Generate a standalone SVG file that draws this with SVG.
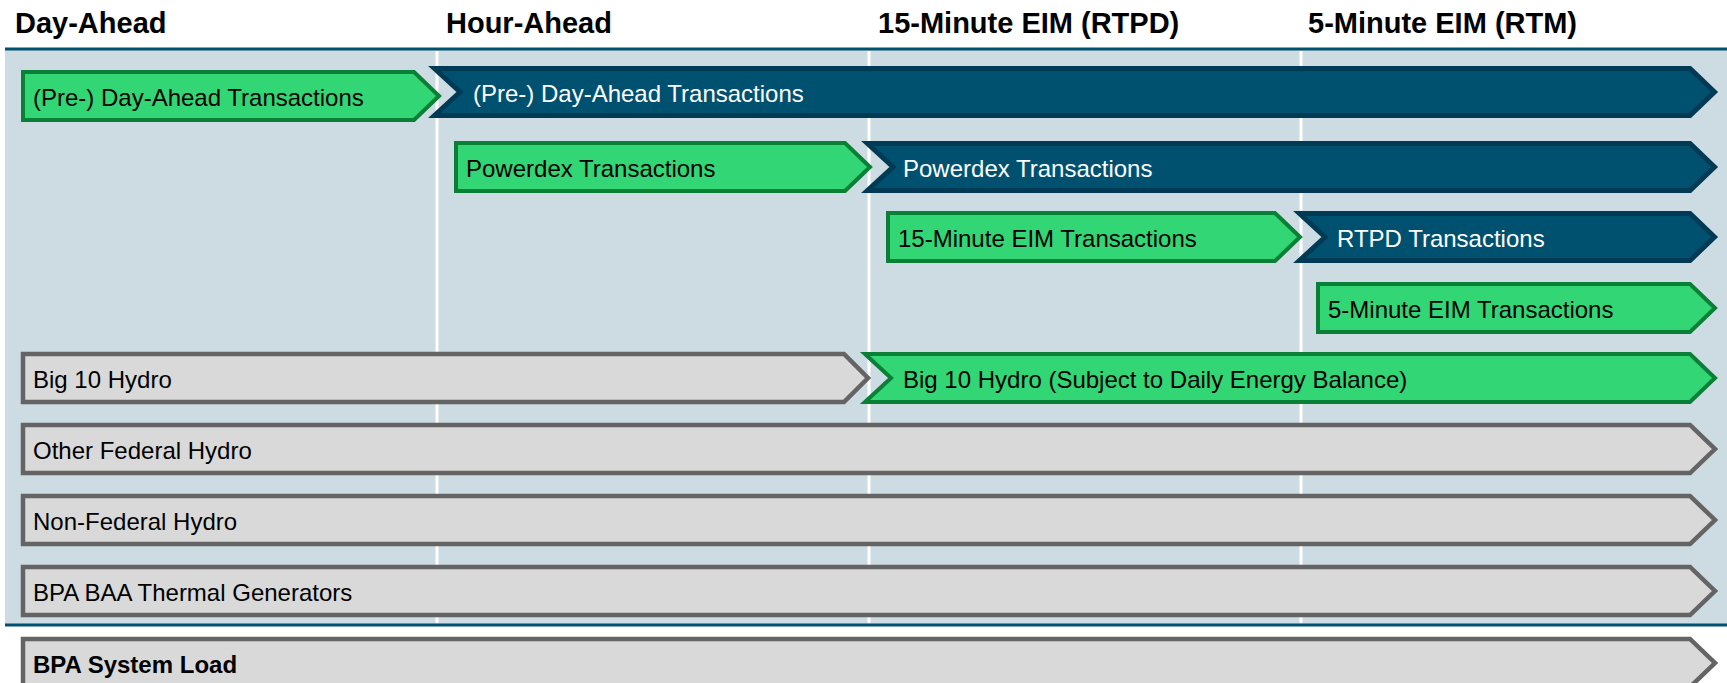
<svg xmlns="http://www.w3.org/2000/svg" width="1727" height="683" viewBox="0 0 1727 683">
<style>
.hdr{font-family:"Liberation Sans",Arial,sans-serif;font-weight:bold;font-size:29px;fill:#000}
.t{font-family:"Liberation Sans",Arial,sans-serif;font-size:24px;fill:#000}
.tw{font-family:"Liberation Sans",Arial,sans-serif;font-size:24px;fill:#fff}
.tb{font-family:"Liberation Sans",Arial,sans-serif;font-size:24px;font-weight:bold;fill:#000}
.green{fill:#33D674;stroke:#0A7F36;stroke-width:4}
.blue{fill:#00516F;stroke:#003A54;stroke-width:5}
.gray{fill:#D9D9D9;stroke:#646464;stroke-width:4.5}
.div{stroke:#fff;stroke-width:3}
</style>
<rect width="1727" height="683" fill="#fff"/>
<rect x="5" y="49" width="1722" height="576" fill="#CDDBE3"/>
<line x1="5" y1="49" x2="1727" y2="49" stroke="#00506F" stroke-width="3"/>
<line x1="5" y1="625" x2="1727" y2="625" stroke="#00506F" stroke-width="3"/>
<g id="dividers">
<line class="div" x1="437" y1="51" x2="437" y2="623"/>
<line class="div" x1="869" y1="51" x2="869" y2="623"/>
<line class="div" x1="1301" y1="51" x2="1301" y2="623"/>
</g>
<g id="headers">
<text class="hdr" x="15" y="33">Day-Ahead</text>
<text class="hdr" x="446" y="33">Hour-Ahead</text>
<text class="hdr" x="878" y="33">15-Minute EIM (RTPD)</text>
<text class="hdr" x="1308" y="33">5-Minute EIM (RTM)</text>
</g>
<g id="da-blue">
<path class="blue" d="M434.5,68.5 H1690 L1714.5,92 L1690,115.5 H434.5 L460,92 Z"/>
<text class="tw" x="473" y="102">(Pre-) Day-Ahead Transactions</text>
</g>
<g id="da-green">
<path class="green" d="M23,72 H414 L439,96 L414,120 H23 Z"/>
<text class="t" x="33" y="106">(Pre-) Day-Ahead Transactions</text>
</g>
<g id="pdx-blue">
<path class="blue" d="M867.5,143.5 H1690 L1714.5,167 L1690,190.5 H867.5 L893,167 Z"/>
<text class="tw" x="903" y="177">Powerdex Transactions</text>
</g>
<g id="pdx-green">
<path class="green" d="M456,143 H845 L870,167 L845,191 H456 Z"/>
<text class="t" x="466" y="177">Powerdex Transactions</text>
</g>
<g id="rtpd-blue">
<path class="blue" d="M1299.5,213.5 H1690 L1714.5,237 L1690,260.5 H1299.5 L1325,237 Z"/>
<text class="tw" x="1337" y="247">RTPD Transactions</text>
</g>
<g id="eim15-green">
<path class="green" d="M888,213 H1275 L1300,237 L1275,261 H888 Z"/>
<text class="t" x="898" y="247">15-Minute EIM Transactions</text>
</g>
<g id="eim5-green">
<path class="green" d="M1318,284 H1690 L1715,308 L1690,332 H1318 Z"/>
<text class="t" x="1328" y="318">5-Minute EIM Transactions</text>
</g>
<g id="big10-green">
<path class="green" d="M865,354 H1690 L1715,378 L1690,402 H865 L891,378 Z"/>
<text class="t" x="903" y="388">Big 10 Hydro (Subject to Daily Energy Balance)</text>
</g>
<g id="big10-gray">
<path class="gray" d="M23,354 H844 L868,378 L844,402 H23 Z"/>
<text class="t" x="33" y="388">Big 10 Hydro</text>
</g>
<g id="other-federal">
<path class="gray" d="M23,425 H1690 L1715,449 L1690,473 H23 Z"/>
<text class="t" x="33" y="459">Other Federal Hydro</text>
</g>
<g id="non-federal">
<path class="gray" d="M23,496 H1690 L1715,520 L1690,544 H23 Z"/>
<text class="t" x="33" y="530">Non-Federal Hydro</text>
</g>
<g id="thermal">
<path class="gray" d="M23,567 H1690 L1715,591 L1690,615 H23 Z"/>
<text class="t" x="33" y="601">BPA BAA Thermal Generators</text>
</g>
<g id="system-load">
<path class="gray" d="M23,639 H1690 L1715,663 L1690,687 H23 Z"/>
<text class="tb" x="33" y="673">BPA System Load</text>
</g>
</svg>
